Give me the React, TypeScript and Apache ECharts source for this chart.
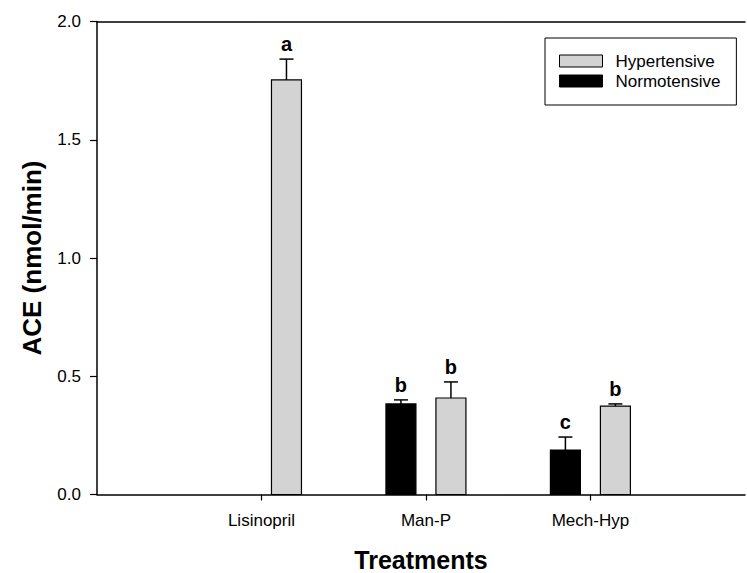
import React, { useEffect, useRef } from "react";
import * as echarts from "echarts";

// Treatments along the x axis (placed at positions 1, 2, 3)
const categories = ["Lisinopril", "Man-P", "Mech-Hyp"];
const categoryPositions = [1, 2, 3];

// ACE activity (nmol/min): means and upper error (SE)
const hypertensive = [1.753, 0.408, 0.374];
const hypertensiveErr = [0.088, 0.068, 0.009];
const hypertensiveLetters = ["a", "b", "b"];

const normotensive: (number | null)[] = [null, 0.383, 0.188];
const normotensiveErr: (number | null)[] = [null, 0.017, 0.055];
const normotensiveLetters = ["", "b", "c"];

const yTicks = [0, 0.5, 1.0, 1.5, 2.0];

const FONT = 'Arial, "Liberation Sans", Helvetica, sans-serif';
const GRAY = "#d3d3d3";
const BLACK = "#000000";

function buildData(values: (number | null)[], errs: (number | null)[]) {
  const out: number[][] = [];
  values.forEach((v, i) => {
    if (v != null) out.push([categoryPositions[i], v, errs[i] ?? 0, i]);
  });
  return out;
}

function makeSeries(
  name: string,
  values: (number | null)[],
  errs: (number | null)[],
  letters: string[],
  color: string,
  offset: number
) {
  return {
    type: "custom",
    name,
    xAxisIndex: 0,
    yAxisIndex: 0,
    itemStyle: { color, borderColor: BLACK, borderWidth: 1 },
    data: buildData(values, errs),
    renderItem: (params: any, api: any) => {
      const x = api.value(0);
      const v = api.value(1);
      const e = api.value(2);
      const k = api.value(3);
      const base = api.coord([x, 0]);
      const top = api.coord([x, v]);
      const hi = api.coord([x, v + e]);
      const cx = base[0] + offset;
      const half = 15;
      return {
        type: "group",
        children: [
          {
            type: "line",
            shape: { x1: cx, y1: top[1], x2: cx, y2: hi[1] },
            style: { stroke: BLACK, lineWidth: 1.5 },
          },
          {
            type: "line",
            shape: { x1: cx - 7, y1: hi[1], x2: cx + 7, y2: hi[1] },
            style: { stroke: BLACK, lineWidth: 1.5 },
          },
          {
            type: "rect",
            shape: { x: cx - half, y: top[1], width: half * 2, height: base[1] - top[1] },
            style: { fill: color, stroke: BLACK, lineWidth: 1.2 },
          },
          {
            type: "text",
            style: {
              text: letters[k],
              x: cx,
              y: hi[1] - 5,
              align: "center",
              verticalAlign: "bottom",
              fontSize: 20,
              fontWeight: "bold",
              fontFamily: FONT,
              fill: BLACK,
            },
          },
        ],
      };
    },
  };
}

export default function App() {
  const ref = useRef<HTMLDivElement>(null);

  useEffect(() => {
    if (!ref.current) return;
    const chart = echarts.init(ref.current, undefined, { renderer: "svg" });
    chart.setOption({
      animation: false,
      backgroundColor: "#ffffff",
      textStyle: { fontFamily: FONT },
      grid: {
        left: 97,
        right: 2,
        top: 21.5,
        bottom: 78.5,
        containLabel: false,
        outerBoundsMode: "none",
      },
      legend: {
        orient: "vertical",
        left: 545,
        top: 38,
        padding: [14, 16, 15, 14],
        borderColor: BLACK,
        borderWidth: 1,
        itemWidth: 43,
        itemHeight: 12,
        itemGap: 2,
        icon: "rect",
        textStyle: { fontSize: 17, color: BLACK, fontFamily: FONT, lineHeight: 18, padding: [0, 0, 0, 8] },
        data: [
          { name: "Hypertensive", itemStyle: { color: GRAY, borderColor: BLACK, borderWidth: 1 } },
          { name: "Normotensive", itemStyle: { color: BLACK, borderColor: BLACK, borderWidth: 1 } },
        ],
      },
      xAxis: [
        {
          type: "value",
          min: 0,
          max: 3.94,
          name: "Treatments",
          nameLocation: "middle",
          nameGap: 53,
          nameTextStyle: { fontSize: 25, fontWeight: "bold", color: BLACK, fontFamily: FONT, lineHeight: 25 },
          splitLine: { show: false },
          axisLine: { show: true, onZero: false, lineStyle: { color: BLACK, width: 1.5 } },
          axisTick: {
            show: true,
            inside: false,
            length: 6,
            customValues: categoryPositions,
            lineStyle: { color: BLACK, width: 1.2 },
          },
          axisLabel: {
            show: true,
            margin: 17,
            fontSize: 17,
            color: BLACK,
            fontFamily: FONT,
            customValues: categoryPositions,
            formatter: (val: number) => {
              const idx = categoryPositions.indexOf(Math.round(val));
              return idx >= 0 ? categories[idx] : "";
            },
          },
        },
        {
          type: "value",
          position: "top",
          min: 0,
          max: 3.94,
          splitLine: { show: false },
          axisLine: { show: true, onZero: false, lineStyle: { color: BLACK, width: 1.5 } },
          axisTick: { show: false },
          axisLabel: { show: false },
        },
      ],
      yAxis: {
        type: "value",
        min: 0,
        max: 2,
        interval: 0.5,
        name: "ACE (nmol/min)",
        nameLocation: "middle",
        nameGap: 52,
        nameTextStyle: { fontSize: 26, fontWeight: "bold", color: BLACK, fontFamily: FONT },
        splitLine: { show: false },
        axisLine: { show: true, lineStyle: { color: BLACK, width: 1.5 } },
        axisTick: { show: true, inside: false, length: 7, lineStyle: { color: BLACK, width: 1.2 } },
        axisLabel: {
          margin: 16,
          fontSize: 17,
          color: BLACK,
          fontFamily: FONT,
          customValues: yTicks,
          formatter: (v: number) => v.toFixed(1),
        },
      },
      series: [
        makeSeries("Hypertensive", hypertensive, hypertensiveErr, hypertensiveLetters, GRAY, 25),
        makeSeries("Normotensive", normotensive, normotensiveErr, normotensiveLetters, BLACK, -25),
      ],
    });
    return () => chart.dispose();
  }, []);

  return (
    <div
      ref={ref}
      style={{ position: "fixed", left: 0, top: 0, width: 747, height: 573, background: "#fff" }}
    />
  );
}
